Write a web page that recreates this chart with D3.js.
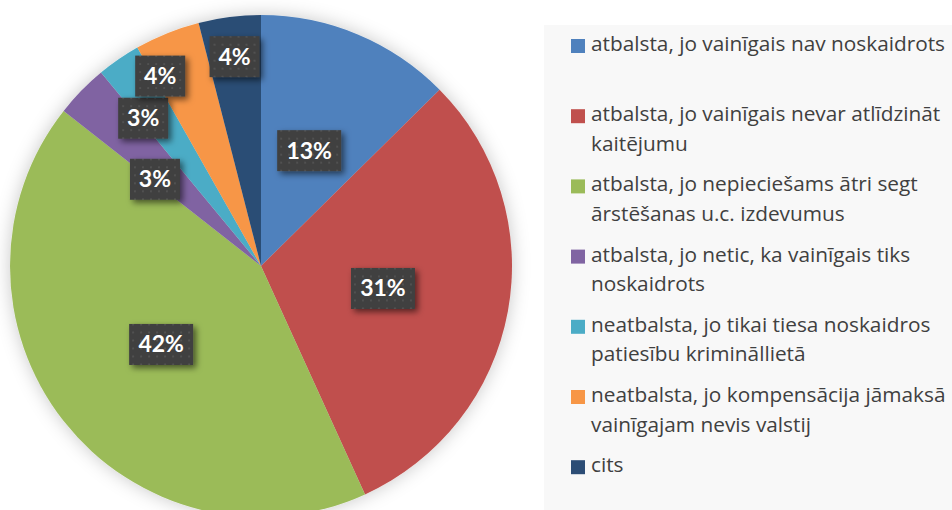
<!DOCTYPE html>
<html lang="lv">
<head>
<meta charset="utf-8">
<title>pie</title>
<script src="https://cdn.jsdelivr.net/npm/d3@7"></script>
<style>
  body { margin: 0; background: #fff; }
  svg { display: block; }
</style>
</head>
<body>
<script>
// data
var categories = [
  ["atbalsta, jo vainīgais nav noskaidrots"],
  ["atbalsta, jo vainīgais nevar atlīdzināt", "kaitējumu"],
  ["atbalsta, jo nepieciešams ātri segt", "ārstēšanas u.c. izdevumus"],
  ["atbalsta, jo netic, ka vainīgais tiks", "noskaidrots"],
  ["neatbalsta, jo tikai tiesa noskaidros", "patiesību krimināllietā"],
  ["neatbalsta, jo kompensācija jāmaksā", "vainīgajam nevis valstij"],
  ["cits"]
];
var values = [12.6, 30.6, 42.4, 3.4, 2.8, 4.2, 4.0];
var colors = ["#4f81bd", "#c0504d", "#9bbb59", "#8064a2", "#4bacc6", "#f79646", "#2c4d75"];

// label layout (radius from centre, angle nudge in degrees)
var labelR = [125, 124, 127, 137, 189, 215, 211];
var labelNudge = [0, 0, 0, -5, -4, -6, 0];

var w = 952, h = 510;
var cx = 261, cy = 266, r = 251;

var svg = d3.select("body").append("svg")
  .attr("width", w).attr("height", h);

var defs = svg.append("defs");

var glow = defs.append("filter").attr("id", "glow")
  .attr("x", "-20%").attr("y", "-20%").attr("width", "140%").attr("height", "140%");
glow.append("feDropShadow").attr("dx", 0).attr("dy", 0)
  .attr("stdDeviation", 9).attr("flood-color", "#000").attr("flood-opacity", 0.22);

var shadow = defs.append("filter").attr("id", "shadow")
  .attr("x", "-30%").attr("y", "-30%").attr("width", "170%").attr("height", "170%");
shadow.append("feDropShadow").attr("dx", 3).attr("dy", 3)
  .attr("stdDeviation", 3).attr("flood-color", "#000").attr("flood-opacity", 0.55);

var pat = defs.append("pattern").attr("id", "dots")
  .attr("patternUnits", "userSpaceOnUse").attr("width", 8).attr("height", 8);
pat.append("rect").attr("width", 8).attr("height", 8).attr("fill", "#3f3f3f");
pat.append("circle").attr("cx", 4).attr("cy", 4).attr("r", 1.1).attr("fill", "#555");

// legend background
svg.append("rect")
  .attr("x", 544).attr("y", 25)
  .attr("width", w - 544).attr("height", h - 25)
  .attr("fill", "#f8f8f8");

// pie
var pie = d3.pie().sort(null).value(function(d) { return d; });
var arcs = pie(values);
var arc = d3.arc().innerRadius(0).outerRadius(r);

var g = svg.append("g").attr("transform", "translate(" + cx + "," + cy + ")");

g.append("g").attr("filter", "url(#glow)")
  .selectAll("path")
  .data(arcs)
  .enter()
  .append("path")
  .attr("d", arc)
  .attr("fill", function(d, i) { return colors[i]; });

// labels
var fmt = function(v) { return Math.round(v) + "%"; };
var lab = g.selectAll("g.lab")
  .data(arcs)
  .enter()
  .append("g")
  .attr("class", "lab")
  .attr("transform", function(d, i) {
    var a = (d.startAngle + d.endAngle) / 2 + labelNudge[i] * Math.PI / 180;
    return "translate(" + (Math.sin(a) * labelR[i]) + "," + (-Math.cos(a) * labelR[i]) + ")";
  });

lab.append("rect")
  .attr("filter", "url(#shadow)")
  .attr("fill", "url(#dots)")
  .attr("height", 41)
  .attr("y", -20.5)
  .attr("x", function(d) { return fmt(d.data).length > 2 ? -32 : -25; })
  .attr("width", function(d) { return fmt(d.data).length > 2 ? 64 : 50; });

lab.append("text")
  .text(function(d) { return fmt(d.data); })
  .attr("text-anchor", "middle")
  .attr("y", 8)
  .attr("font-family", "Lato, sans-serif")
  .attr("font-weight", "bold")
  .attr("font-size", "23px")
  .attr("fill", "#fff");

// legend
var leg = svg.selectAll("g.leg")
  .data(categories)
  .enter()
  .append("g")
  .attr("class", "leg")
  .attr("transform", function(d, i) { return "translate(571," + (51 + i * 70.2) + ")"; });

leg.append("rect")
  .attr("y", -12).attr("width", 14).attr("height", 14)
  .attr("fill", function(d, i) { return colors[i]; });

leg.append("text")
  .attr("x", 20)
  .attr("font-family", "'Open Sans', sans-serif")
  .attr("font-size", "20.8px")
  .attr("fill", "#404040")
  .selectAll("tspan")
  .data(function(d) { return d; })
  .enter()
  .append("tspan")
  .attr("x", 20)
  .attr("dy", function(d, i) { return i ? 29.5 : 0; })
  .text(function(d) { return d; });
</script>
</body>
</html>
